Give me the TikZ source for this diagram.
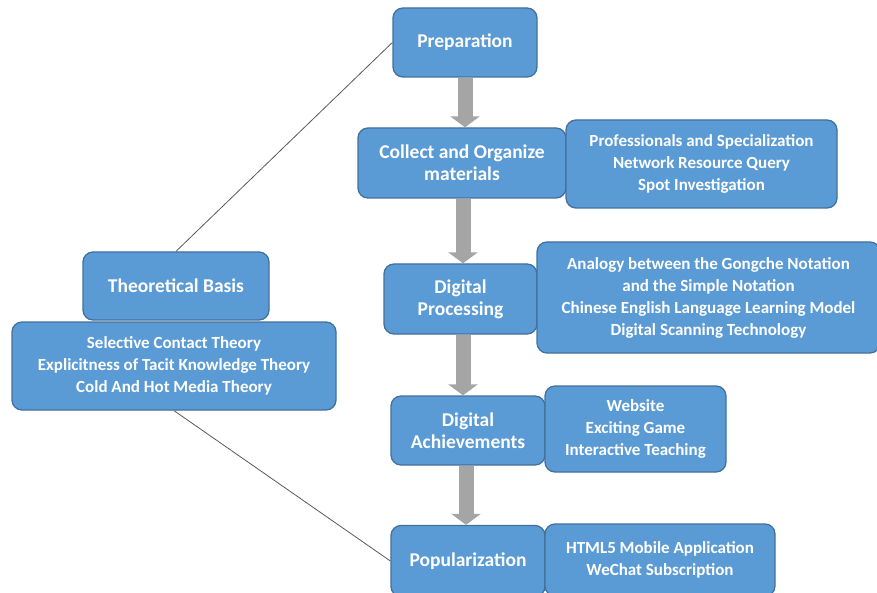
\documentclass[tikz,border=0pt]{standalone}
\usepackage{fontspec}
\setmainfont{Carlito}
\usetikzlibrary{arrows.meta}
\definecolor{boxfill}{HTML}{5B9BD5}
\definecolor{boxline}{HTML}{41719C}
\definecolor{arrowgray}{HTML}{A5A5A5}
\definecolor{thinline}{HTML}{595959}
\tikzset{
  box/.style={draw=boxline, line width=1.3pt, fill=boxfill, rounded corners=10pt,
    text=white, font=\fontsize{17}{22}\selectfont\bfseries, align=center,
    inner sep=0pt},
  mainbox/.style={box, font=\fontsize{19.5}{22}\selectfont\bfseries},
  flowarrow/.style={draw=arrowgray, line width=15pt, -{Triangle[width=29pt,length=11pt]}},
  link/.style={draw=thinline, line width=0.8pt}
}
\begin{document}
\begin{tikzpicture}[x=1pt,y=-1pt]
\useasboundingbox (0,0) rectangle (877,593);
\node[mainbox, minimum width=144pt, minimum height=69pt] (prep) at (465,42.5) {Preparation};
\node[mainbox, minimum width=208pt, minimum height=70pt] (collect) at (462,163) {Collect and Organize\\materials};
\node[box, minimum width=271pt, minimum height=88pt] (prof) at (701.5,164) {Professionals and Specialization\\Network Resource Query\\Spot Investigation};
\node[mainbox, minimum width=153pt, minimum height=70pt] (proc) at (460.5,299) {Digital\\Processing};
\node[box, minimum width=343pt, minimum height=111pt] (analogy) at (708.5,297.5) {Analogy between the Gongche Notation\\and the Simple Notation\\Chinese English Language Learning Model\\Digital Scanning Technology};
\node[mainbox, minimum width=154pt, minimum height=69pt] (ach) at (468,430.5) {Digital\\Achievements};
\node[box, minimum width=181pt, minimum height=86pt] (web) at (635.5,429) {Website\\Exciting Game\\Interactive Teaching};
\node[mainbox, minimum width=154pt, minimum height=71pt] (pop) at (468,561) {Popularization};
\node[box, minimum width=230pt, minimum height=72pt] (html) at (660,560) {HTML5 Mobile Application\\WeChat Subscription};
\node[mainbox, minimum width=186pt, minimum height=68pt] (theo) at (176,286) {Theoretical Basis};
\node[box, minimum width=324pt, minimum height=88pt] (sel) at (174,366) {Selective Contact Theory\\Explicitness of Tacit Knowledge Theory\\Cold And Hot Media Theory};
\draw[link] (theo.north) -- (prep.west);
\draw[link] (sel.south) -- (pop.west);
\draw[flowarrow] (prep.south) -- (prep.south |- collect.north);
\draw[flowarrow] ([xshift=1pt]collect.south) -- ([xshift=1pt]collect.south |- proc.north);
\draw[flowarrow] ([xshift=2.5pt]proc.south) -- ([xshift=2.5pt]proc.south |- ach.north);
\draw[flowarrow] ([xshift=-2pt]ach.south) -- ([xshift=-2pt]ach.south |- pop.north);
\end{tikzpicture}
\end{document}
